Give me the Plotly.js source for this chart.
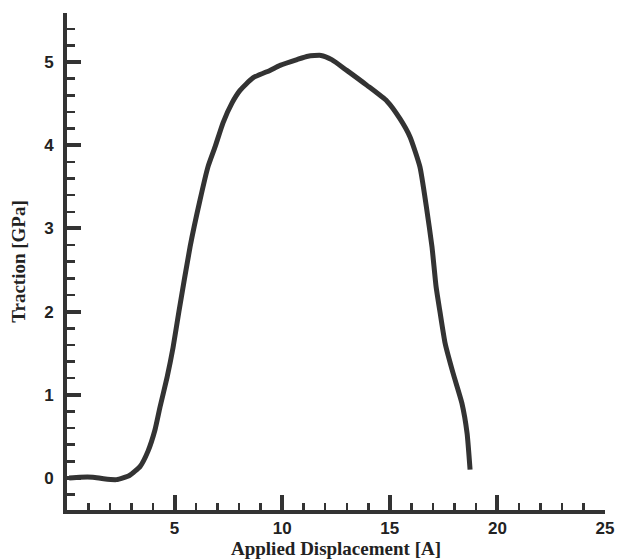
<!DOCTYPE html>
<html>
<head>
<meta charset="utf-8">
<script src="https://cdn.plot.ly/plotly-3.0.1.min.js"></script>
<style>html,body{margin:0;padding:0;background:#fff}#chart{width:619px;height:560px}</style>
</head>
<body>
<div id="chart"></div>
<script>
var displacement = [0.1, 0.6, 1.2, 1.7, 2.3, 2.9, 3.4, 3.76, 4.09, 4.32, 4.65, 4.93, 5.2, 5.72, 6.18, 6.55, 6.88, 7.25, 7.67, 8.04, 8.64, 9.43, 9.9, 10.69, 11.2, 11.8, 12.3, 13.0, 13.94, 14.87, 15.47, 15.94, 16.4, 16.7, 16.96, 17.15, 17.33, 17.57, 17.94, 18.35, 18.59, 18.73];
var traction = [0.0, 0.01, 0.01, -0.01, -0.02, 0.03, 0.14, 0.32, 0.58, 0.85, 1.21, 1.57, 2.0, 2.78, 3.34, 3.74, 3.98, 4.27, 4.51, 4.66, 4.81, 4.90, 4.96, 5.03, 5.07, 5.08, 5.03, 4.90, 4.72, 4.53, 4.32, 4.10, 3.74, 3.26, 2.78, 2.3, 2.0, 1.62, 1.26, 0.9, 0.54, 0.10];
var xTickVals = [0, 5, 10, 15, 20, 25];
var xTickText = ['', '5', '10', '15', '20', '25'];
var yTickVals = [0, 1, 2, 3, 4, 5];
var yTickText = ['0', '1', '2', '3', '4', '5'];

var ink = '#333333';
var trace = {
  x: displacement, y: traction, type: 'scatter', mode: 'lines',
  line: {color: ink, width: 5, shape: 'spline', smoothing: 0.5},
  hoverinfo: 'skip'
};
var tickFont = {family: 'Liberation Sans, Arial, sans-serif', size: 17, color: '#222', weight: 'bold'};
var titleFont = {family: 'Liberation Serif, Times New Roman, serif', size: 19, color: '#222', weight: 'bold'};
var layout = {
  width: 619, height: 560,
  margin: {l: 67, r: 14, t: 13, b: 50},
  paper_bgcolor: '#fff', plot_bgcolor: '#fff',
  showlegend: false,
  xaxis: {
    range: [0, 25], showgrid: false, zeroline: false,
    showline: true, linecolor: ink, linewidth: 4,
    tickmode: 'array', tickvals: xTickVals, ticktext: xTickText,
    ticks: 'inside', ticklen: 15, tickwidth: 4, tickcolor: ink,
    minor: {tickmode: 'linear', tick0: 0, dtick: 1, ticks: 'inside', ticklen: 7, tickwidth: 2.5, tickcolor: ink, showgrid: false},
    tickfont: tickFont,
    title: {text: 'Applied Displacement [A]', font: titleFont, standoff: 3}
  },
  yaxis: {
    range: [-0.385, 5.59], showgrid: false, zeroline: false,
    showline: true, linecolor: ink, linewidth: 4,
    tickmode: 'array', tickvals: yTickVals, ticktext: yTickText,
    ticks: 'inside', ticklen: 14, tickwidth: 4, tickcolor: ink,
    minor: {tickmode: 'linear', tick0: 0, dtick: 0.2, ticks: 'inside', ticklen: 8, tickwidth: 2.5, tickcolor: ink, showgrid: false},
    tickfont: tickFont,
    ticklabelstandoff: 6,
    title: {text: 'Traction [GPa]', font: titleFont, standoff: 14}
  }
};
Plotly.newPlot('chart', [trace], layout, {displayModeBar: false, staticPlot: true});
</script>
</body>
</html>
